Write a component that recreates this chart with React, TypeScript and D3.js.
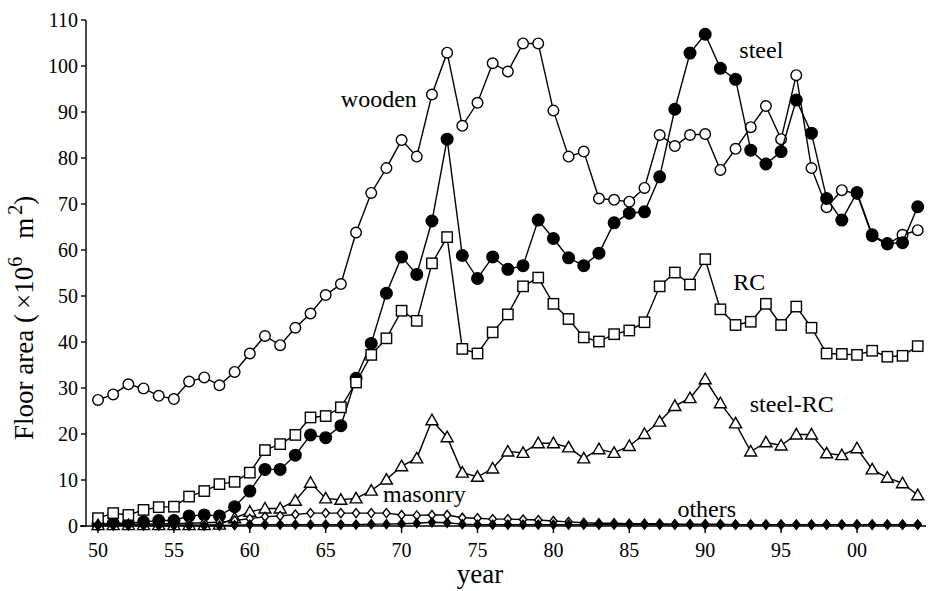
import React, { useRef, useEffect } from 'react'
import * as d3 from 'd3'

// years 1950..2004
const years = d3.range(1950, 2005)

const wooden = [
  27.4, 28.6, 30.8, 29.9, 28.3, 27.6, 31.4, 32.3, 30.6, 33.5,
  37.5, 41.3, 39.3, 43.1, 46.2, 50.2, 52.6, 63.8, 72.4, 77.8,
  83.9, 80.3, 93.8, 102.9, 87.0, 92.0, 100.6, 98.8, 104.9, 104.9,
  90.3, 80.3, 81.4, 71.2, 70.9, 70.5, 73.5, 85.0, 82.6, 85.0,
  85.2, 77.4, 82.0, 86.7, 91.3, 84.1, 98.0, 77.8, 69.3, 73.0,
  72.2, 63.0, 61.2, 63.3, 64.3
]

const steel = [
  0.4, 0.6, 0.6, 0.9, 1.2, 1.2, 2.2, 2.4, 2.2, 4.2,
  7.6, 12.3, 12.3, 15.4, 19.8, 19.2, 21.8, 32.1, 39.7, 50.6,
  58.5, 54.7, 66.3, 84.1, 58.8, 53.8, 58.5, 55.8, 56.6, 66.5,
  62.5, 58.3, 56.6, 59.3, 65.9, 68.0, 68.3, 75.9, 90.6, 102.8,
  106.9, 99.5, 97.1, 81.7, 78.7, 81.4, 92.6, 85.4, 71.2, 66.5,
  72.5, 63.3, 61.4, 61.6, 69.4
]

const rc = [
  1.7, 2.8, 2.4, 3.5, 4.1, 4.2, 6.4, 7.6, 9.1, 9.6,
  11.6, 16.5, 17.8, 19.8, 23.6, 23.9, 25.8, 31.2, 37.2, 40.8,
  46.8, 44.6, 57.1, 62.8, 38.5, 37.5, 42.1, 46.0, 52.1, 54.0,
  48.3, 45.0, 41.0, 40.1, 41.7, 42.5, 44.3, 52.1, 55.1, 52.5,
  58.0, 47.1, 43.7, 44.4, 48.3, 43.7, 47.7, 43.1, 37.5, 37.4,
  37.2, 38.1, 36.8, 37.0, 39.1
]

const steelRC = [
  0.2, 0.2, 0.2, 0.2, 0.2, 0.2, 0.2, 0.2, 0.3, 1.7,
  3.1, 3.8, 3.8, 5.5, 9.4, 6.0, 5.7, 6.0, 7.7, 10.1,
  13.0, 14.7, 23.0, 19.3, 11.6, 10.7, 12.5, 16.2, 15.9, 18.0,
  18.0, 17.1, 14.7, 16.7, 15.9, 17.4, 20.0, 22.7, 26.1, 27.8,
  31.9, 26.7, 22.3, 16.2, 18.2, 17.5, 19.9, 19.9, 15.8, 15.4,
  16.9, 12.3, 10.5, 9.3, 6.7
]

const masonry = [
  0.3, 0.3, 0.4, 0.4, 0.5, 0.5, 0.6, 0.7, 0.8, 1.2,
  1.6, 2.0, 2.2, 2.5, 2.8, 2.8, 2.8, 2.8, 2.8, 2.8,
  2.4, 2.3, 2.4, 2.4, 1.8, 1.7, 1.5, 1.5, 1.4, 1.3,
  1.1, 0.9, 0.7, 0.6, 0.6, 0.5, 0.5, 0.5, 0.4, 0.4,
  0.4, 0.4, 0.3, 0.3, 0.3, 0.3, 0.3, 0.3, 0.3, 0.3,
  0.3, 0.3, 0.3, 0.3, 0.3
]

const others = [
  0.1, 0.1, 0.1, 0.1, 0.1, 0.1, 0.1, 0.1, 0.1, 0.2,
  0.3, 0.3, 0.3, 0.3, 0.3, 0.3, 0.3, 0.3, 0.4, 0.4,
  0.5, 0.6, 0.8, 0.7, 0.4, 0.3, 0.3, 0.3, 0.3, 0.3,
  0.3, 0.3, 0.3, 0.3, 0.3, 0.3, 0.3, 0.3, 0.3, 0.3,
  0.3, 0.3, 0.3, 0.3, 0.3, 0.3, 0.3, 0.3, 0.3, 0.3,
  0.3, 0.3, 0.3, 0.3, 0.3
]

const xTicks = [1950, 1955, 1960, 1965, 1970, 1975, 1980, 1985, 1990, 1995, 2000]
const yTicks = [0, 10, 20, 30, 40, 50, 60, 70, 80, 90, 100, 110]

// series name labels, placed in data units
const labels = [
  { text: 'wooden', x: 1968.5, y: 91.1 },
  { text: 'steel', x: 1993.7, y: 101.7 },
  { text: 'RC', x: 1992.9, y: 51.3 },
  { text: 'steel-RC', x: 1995.7, y: 24.8 },
  { text: 'masonry', x: 1971.5, y: 5.2 },
  { text: 'others', x: 1990.1, y: 2.0 },
]

export default function App() {
  const ref = useRef<SVGSVGElement>(null)

  useEffect(() => {
    const svg = d3.select(ref.current)
    svg.selectAll('*').remove()

    const font = '"Liberation Serif", "DejaVu Serif", serif'
    const x = d3.scaleLinear().domain([1950, 2000]).range([98, 857])
    const y = d3.scaleLinear().domain([0, 110]).range([526, 20])

    // axes
    const gx = svg.append('g').attr('transform', `translate(0,${y(0)})`)
    gx.append('line').attr('x1', 80).attr('x2', 926).attr('y1', 0).attr('y2', 0)
      .attr('stroke', '#000').attr('stroke-width', 1.4)
    gx.selectAll('line.tick').data(xTicks).join('line').attr('class', 'tick')
      .attr('x1', d => x(d)).attr('x2', d => x(d)).attr('y1', 0).attr('y2', 7)
      .attr('stroke', '#000').attr('stroke-width', 1.4)
    gx.selectAll('text').data(xTicks).join('text')
      .attr('x', d => x(d)).attr('y', 31).attr('text-anchor', 'middle')
      .attr('font-family', font).attr('font-size', 20)
      .text(d => String(d % 100).padStart(2, '0'))

    const gy = svg.append('g').attr('transform', 'translate(86,0)')
    gy.append('line').attr('x1', 0).attr('x2', 0).attr('y1', y(110)).attr('y2', y(0))
      .attr('stroke', '#000').attr('stroke-width', 1.4)
    gy.selectAll('line.tick').data(yTicks).join('line').attr('class', 'tick')
      .attr('x1', -5).attr('x2', 0).attr('y1', d => y(d)).attr('y2', d => y(d))
      .attr('stroke', '#000').attr('stroke-width', 1.4)
    gy.selectAll('text').data(yTicks).join('text')
      .attr('x', -8).attr('y', d => y(d)).attr('dy', '0.35em').attr('text-anchor', 'end')
      .attr('font-family', font).attr('font-size', 20)
      .text(d => d)

    // axis titles
    svg.append('text').attr('x', 480).attr('y', 583).attr('text-anchor', 'middle')
      .attr('font-family', font).attr('font-size', 27).text('year')

    const yt = svg.append('text').attr('transform', 'translate(33,440) rotate(-90)')
      .attr('text-anchor', 'start').attr('font-family', font).attr('font-size', 27)
    yt.append('tspan').text('Floor area (')
    yt.append('tspan').attr('dx', 5).text('×10')
    yt.append('tspan').attr('font-size', 20).attr('dy', -11).text('6')
    yt.append('tspan').attr('dy', 11).attr('dx', 18).text('m')
    yt.append('tspan').attr('font-size', 20).attr('dy', -11).attr('dx', 3).text('2')
    yt.append('tspan').attr('dy', 11).text(')')

    const line = d3.line<number>().x((_, i) => x(years[i])).y(d => y(d))

    const series = [
      { data: wooden, shape: 'circle', fill: '#fff', size: 5.3 },
      { data: steel, shape: 'circle', fill: '#000', size: 5.8 },
      { data: rc, shape: 'square', fill: '#fff', size: 5.2 },
      { data: steelRC, shape: 'triangle', fill: '#fff', size: 6 },
      { data: masonry, shape: 'diamond', fill: '#fff', size: 4.5 },
      { data: others, shape: 'diamond', fill: '#000', size: 4.5 },
    ]

    series.forEach(s => {
      svg.append('path').datum(s.data).attr('d', line)
        .attr('fill', 'none').attr('stroke', '#000').attr('stroke-width', 1.4)
      const g = svg.append('g')
      s.data.forEach((v, i) => {
        const cx = x(years[i]), cy = y(v), r = s.size
        let el
        if (s.shape === 'circle') {
          el = g.append('circle').attr('cx', cx).attr('cy', cy).attr('r', r)
        } else if (s.shape === 'square') {
          el = g.append('rect').attr('x', cx - r).attr('y', cy - r).attr('width', 2 * r).attr('height', 2 * r)
        } else if (s.shape === 'triangle') {
          el = g.append('path').attr('d', `M${cx},${cy - r}L${cx + r},${cy + r * 0.75}L${cx - r},${cy + r * 0.75}Z`)
        } else {
          el = g.append('path').attr('d', `M${cx},${cy - r}L${cx + r * 0.8},${cy}L${cx},${cy + r}L${cx - r * 0.8},${cy}Z`)
        }
        el.attr('fill', s.fill).attr('stroke', '#000').attr('stroke-width', 1.4)
      })
    })

    svg.selectAll('text.lbl').data(labels).join('text').attr('class', 'lbl')
      .attr('x', d => x(d.x)).attr('y', d => y(d.y)).attr('text-anchor', 'middle')
      .attr('font-family', font).attr('font-size', 24)
      .text(d => d.text)
  }, [])

  return (
    <svg ref={ref} width={928} height={591}
      style={{ position: 'absolute', left: 0, top: 0, background: '#fff' }} />
  )
}
